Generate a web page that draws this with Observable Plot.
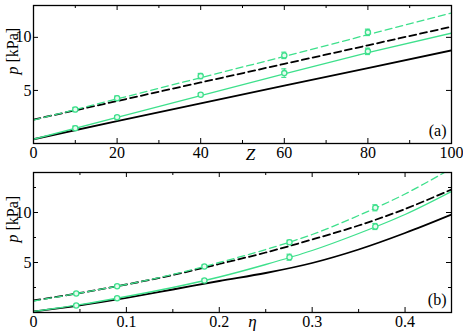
<!DOCTYPE html>
<html>
<head>
<meta charset="utf-8">
<script src="https://cdn.jsdelivr.net/npm/d3@7"></script>
<script src="https://cdn.jsdelivr.net/npm/@observablehq/plot@0.6"></script>
<style>
  html, body { margin: 0; padding: 0; background: #fff; }
  #chart { width: 463px; }
  #chart svg { display: block; }
  #chart svg, #chart svg text, #chart svg tspan { font-family: "Liberation Serif", "DejaVu Serif", serif !important; }
</style>
</head>
<body>
<div id="chart"></div>
<script>
// ---------- Panel (a): pressure vs Z ----------
const zGrid = [0, 20, 40, 60, 80, 100];
const blackSolidZ = [0.4, 2.1, 3.77, 5.45, 7.1, 8.77];
const greenSolidZ = [0.4, 2.45, 4.5, 6.55, 8.55, 10.4];
const blackDashZ = [2.25, 4.0, 5.75, 7.5, 9.25, 11.0];
const greenDashZ = [2.2, 4.2, 6.2, 8.2, 10.25, 12.3];
const zPts = [10, 20, 40, 60, 80];
const greenSolidZPts = [1.44, 2.48, 4.59, 6.63, 8.68];
const greenSolidZErr = [0.2, 0.15, 0.15, 0.4, 0.3];
const greenDashZPts = [3.2, 4.27, 6.35, 8.3, 10.47];
const greenDashZErr = [0.2, 0.2, 0.25, 0.3, 0.3];
const zTicksMajor = [20, 40, 60, 80];
const zTickLabels = [0, 20, 40, 60, 80, 100];
const zTicksMinor = [10, 30, 50, 70, 90];
const pTicksA = [5, 10];

// ---------- Panel (b): pressure vs eta ----------
const etaGrid = [0, 0.05, 0.1, 0.15, 0.2, 0.25, 0.3, 0.35, 0.4, 0.45];
const blackSolidEta = [0.1, 0.72, 1.47, 2.3, 3.15, 3.95, 4.95, 6.3, 7.95, 9.8];
const greenSolidEta = [0.1, 0.78, 1.6, 2.5, 3.55, 4.8, 6.2, 7.9, 9.8, 12.1];
const blackDashEta = [1.2, 1.95, 2.8, 3.75, 4.85, 6.0, 7.3, 8.7, 10.35, 12.3];
const greenDashEta = [1.15, 1.95, 2.8, 3.8, 5.0, 6.3, 7.8, 9.7, 11.85, 14.4];
const etaPts = [0.046, 0.09, 0.184, 0.2756, 0.368];
const greenSolidEtaPts = [0.7, 1.43, 3.2, 5.53, 8.6];
const greenSolidEtaErr = [0.1, 0.1, 0.15, 0.3, 0.3];
const greenDashEtaPts = [1.9, 2.63, 4.6, 7.03, 10.47];
const greenDashEtaErr = [0.1, 0.1, 0.15, 0.2, 0.3];
const etaTicksMajor = [0.1, 0.2, 0.3, 0.4];
const etaTickLabels = [0, 0.1, 0.2, 0.3, 0.4];
const etaTicksMinor = [0.05, 0.15, 0.25, 0.35];
const pTicksB = [5, 10];
const pTicksBMinor = [2.5, 7.5, 12.5];

const GREEN = "#3ee08c";
const FONT = "'Liberation Serif', 'DejaVu Serif', serif";

function series(xs, ys) { return xs.map((x, i) => ({x, y: ys[i]})); }
function pts(xs, ys, es) { return xs.map((x, i) => ({x, y: ys[i], e: es[i]})); }

function panel(opts) {
  const {width, height, mt, mb, ml, mr, xDomain, yDomain, lines, points,
         xMajor, xMinor, xLabels, xFmt, yMajor, yMinor, curve, tag, xName, xNameDx, xNameDy} = opts;
  const innerW = width - ml - mr;
  const innerH = height - mt - mb;
  const marks = [];
  for (const L of lines) {
    marks.push(Plot.line(L.data, {x: "x", y: "y", stroke: L.color, strokeWidth: L.w,
      strokeDasharray: L.dash, curve, clip: true}));
  }
  for (const P of points) {
    marks.push(Plot.ruleX(P, {x: "x", y1: d => d.y - d.e, y2: d => d.y + d.e, stroke: GREEN, strokeWidth: 1.2}));
    marks.push(Plot.ruleY(P, {y: d => d.y - d.e, x1: "x", x2: "x", insetLeft: -2.5, insetRight: -2.5, stroke: GREEN, strokeWidth: 1.2}));
    marks.push(Plot.ruleY(P, {y: d => d.y + d.e, x1: "x", x2: "x", insetLeft: -2.5, insetRight: -2.5, stroke: GREEN, strokeWidth: 1.2}));
    marks.push(Plot.dot(P, {x: "x", y: "y", r: 2.6, stroke: GREEN, fill: "#e9fbf1", strokeWidth: 1.3}));
  }
  const tk = {stroke: "black", strokeWidth: 1};
  marks.push(Plot.tickX(xMajor, {x: d => d, insetTop: innerH - 5, ...tk}));
  marks.push(Plot.tickX(xMajor, {x: d => d, insetBottom: innerH - 5, ...tk}));
  marks.push(Plot.tickX(xMinor, {x: d => d, insetTop: innerH - 3, ...tk}));
  marks.push(Plot.tickX(xMinor, {x: d => d, insetBottom: innerH - 3, ...tk}));
  marks.push(Plot.tickY(yMajor, {y: d => d, insetRight: innerW - 5, ...tk}));
  marks.push(Plot.tickY(yMajor, {y: d => d, insetLeft: innerW - 5, ...tk}));
  if (yMinor.length) {
    marks.push(Plot.tickY(yMinor, {y: d => d, insetRight: innerW - 3, ...tk}));
    marks.push(Plot.tickY(yMinor, {y: d => d, insetLeft: innerW - 3, ...tk}));
  }
  marks.push(Plot.axisX(xLabels, {anchor: "bottom", tickSize: 0, tickPadding: 3, tickFormat: xFmt, label: null}));
  marks.push(Plot.axisY(yMajor, {anchor: "left", tickSize: 0, tickPadding: 2, label: null}));
  marks.push(Plot.frame({stroke: "black", strokeWidth: 1.3}));
  marks.push(Plot.text([tag], {frameAnchor: "bottom-right", dx: -5, dy: -8, text: d => d, fontSize: 16}));
  marks.push(Plot.text([xName], {frameAnchor: "bottom", dx: xNameDx, dy: xNameDy, text: d => d,
    fontSize: 17, fontStyle: "italic", lineAnchor: "middle"}));
  marks.push(Plot.text(["p [kPa]"], {frameAnchor: "left", dx: -21, rotate: -90, text: d => d,
    fontSize: 16, lineAnchor: "middle"}));

  const svg = Plot.plot({
    width, height, marginTop: mt, marginBottom: mb, marginLeft: ml, marginRight: mr,
    x: {domain: xDomain, axis: null},
    y: {domain: yDomain, axis: null},
    style: {fontFamily: FONT, fontSize: "16px", color: "black", background: "white", overflow: "visible"},
    marks
  });
  svg.querySelectorAll("text").forEach(t => {
    if (t.textContent === "p [kPa]") {
      const target = t.querySelector("tspan") || t;
      target.textContent = "";
      const ns = "http://www.w3.org/2000/svg";
      const a = document.createElementNS(ns, "tspan");
      a.setAttribute("font-style", "italic");
      a.textContent = "p";
      const b = document.createElementNS(ns, "tspan");
      b.textContent = " [kPa]";
      target.appendChild(a);
      target.appendChild(b);
    }
  });
  return svg;
}

const chart = document.getElementById("chart");

chart.appendChild(panel({
  width: 463, height: 165, mt: 5, mb: 22, ml: 33, mr: 12,
  xDomain: [0, 100], yDomain: [0, 13],
  lines: [
    {data: series(zGrid, blackSolidZ), color: "black", w: 1.8, dash: null},
    {data: series(zGrid, greenSolidZ), color: GREEN, w: 1.3, dash: null},
    {data: series(zGrid, blackDashZ), color: "black", w: 1.8, dash: "7,4"},
    {data: series(zGrid, greenDashZ), color: GREEN, w: 1.3, dash: "7,4"}
  ],
  points: [pts(zPts, greenSolidZPts, greenSolidZErr), pts(zPts, greenDashZPts, greenDashZErr)],
  xMajor: zTicksMajor, xMinor: zTicksMinor, xLabels: zTickLabels, xFmt: d => String(d),
  yMajor: pTicksA, yMinor: [], curve: "linear", tag: "(a)",
  xName: "Z", xNameDx: 8, xNameDy: 11
}));

chart.appendChild(panel({
  width: 463, height: 171, mt: 7, mb: 24, ml: 33, mr: 12,
  xDomain: [0, 0.45], yDomain: [0, 14],
  lines: [
    {data: series(etaGrid, blackSolidEta), color: "black", w: 1.8, dash: null},
    {data: series(etaGrid, greenSolidEta), color: GREEN, w: 1.3, dash: null},
    {data: series(etaGrid, blackDashEta), color: "black", w: 1.8, dash: "7,4"},
    {data: series(etaGrid, greenDashEta), color: GREEN, w: 1.3, dash: "7,4"}
  ],
  points: [pts(etaPts, greenSolidEtaPts, greenSolidEtaErr), pts(etaPts, greenDashEtaPts, greenDashEtaErr)],
  xMajor: etaTicksMajor, xMinor: etaTicksMinor, xLabels: etaTickLabels, xFmt: d => d === 0 ? "0" : d.toFixed(1),
  yMajor: pTicksB, yMinor: pTicksBMinor, curve: "catmull-rom", tag: "(b)",
  xName: "η", xNameDx: 10, xNameDy: 9
}));
</script>
</body>
</html>
